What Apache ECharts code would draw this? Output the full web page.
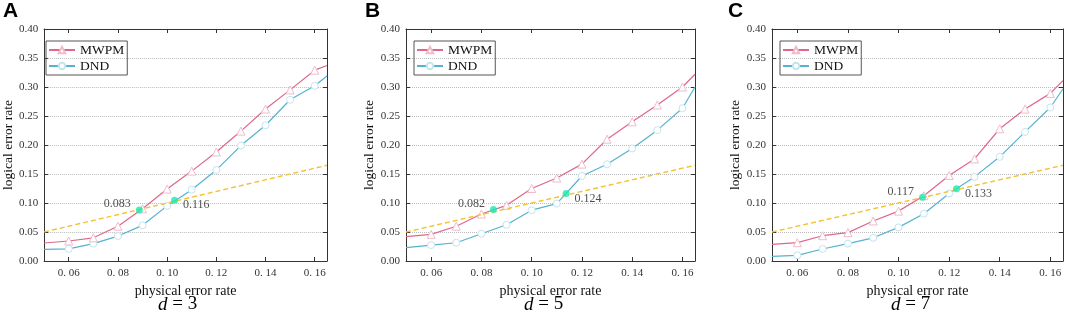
<!DOCTYPE html>
<html>
<head>
<meta charset="utf-8">
<script src="https://cdn.jsdelivr.net/npm/echarts@6/dist/echarts.min.js"></script>
<style>
  html, body { margin: 0; padding: 0; background: #fff; }
  #chart { width: 1065px; height: 312px; }
</style>
</head>
<body>
<div id="chart"></div>
<script>
// physical error rate samples (first/last are the axis edges, drawn without marker)
const physRates = [0.05, 0.06, 0.07, 0.08, 0.09, 0.10, 0.11, 0.12, 0.13, 0.14, 0.15, 0.16, 0.165]
const xTicks = [0.06, 0.08, 0.10, 0.12, 0.14, 0.16]

const mwpmA = [0.031, 0.0345, 0.040, 0.060, 0.090, 0.124, 0.155, 0.188, 0.224, 0.262, 0.295, 0.329, 0.337]
const dndA = [0.020, 0.021, 0.030, 0.043, 0.0615, 0.095, 0.123, 0.157, 0.199, 0.234, 0.278, 0.302, 0.319]
const mwpmB = [0.042, 0.046, 0.060, 0.081, 0.096, 0.125, 0.143, 0.167, 0.210, 0.240, 0.269, 0.300, 0.322]
const dndB = [0.023, 0.0275, 0.0315, 0.047, 0.0624, 0.0876, 0.099, 0.1466, 0.1667, 0.194, 0.2256, 0.2634, 0.300]
const mwpmC = [0.0287, 0.0316, 0.0436, 0.049, 0.069, 0.086, 0.1125, 0.1475, 0.176, 0.228, 0.262, 0.289, 0.311]
const dndC = [0.008, 0.0098, 0.0207, 0.030, 0.040, 0.058, 0.0815, 0.1165, 0.145, 0.1796, 0.2226, 0.2647, 0.297]

// logical = physical reference line
const refLine = [[0.05, 0.05], [0.165, 0.165]]

// crossing points and their labels
const crossA = [[0.0887, 0.088], [0.103, 0.1046]]
const crossB = [[0.0848, 0.0888], [0.1137, 0.1163]]
const crossC = [[0.1095, 0.1097], [0.1229, 0.1245]]
const crossLabelsA = ['0.083', '0.116']
const crossLabelsB = ['0.082', '0.124']
const crossLabelsC = ['0.117', '0.133']

const panelLetters = ['A', 'B', 'C']
const distances = ['3', '5', '7']

const panels = [
  { mwpm: mwpmA, dnd: dndA, cross: crossA, labels: crossLabelsA, left: 38, width: 289, dLeft: 158 },
  { mwpm: mwpmB, dnd: dndB, cross: crossB, labels: crossLabelsB, left: 406, width: 289, dLeft: 524 },
  { mwpm: mwpmC, dnd: dndC, cross: crossC, labels: crossLabelsC, left: 772, width: 291, dLeft: 891 }
]
const letterX = [3, 365, 728]

const serif = 'Liberation Serif'
const pink = '#e0668a'
const blue = '#55b3d0'

const toPoints = ys => ys.map((y, i) => {
  const p = { value: [physRates[i], y] }
  if (i === 0 || i === ys.length - 1) p.symbol = 'none'
  return p
})

const grid = []
const xAxis = []
const yAxis = []
const series = []
const legend = []
const graphic = []

panels.forEach((p, i) => {
  grid.push({ left: p.left, top: 29, width: p.width, height: 232, containLabel: false })

  xAxis.push({
    type: 'value', gridIndex: i, min: 0.05, max: 0.165,
    name: 'physical error rate', nameLocation: 'middle', nameGap: 17,
    nameTextStyle: { fontFamily: serif, fontSize: 14, color: '#111' },
    axisLine: { show: true, lineStyle: { color: '#333' } },
    axisTick: { show: true, inside: true, length: 4, customValues: xTicks, lineStyle: { color: '#333' } },
    axisLabel: {
      customValues: xTicks, margin: 7, fontFamily: serif, fontSize: 11, color: '#333',
      formatter: v => v.toFixed(2).replace('.', '. ')
    },
    splitLine: { show: false }
  })
  xAxis.push({
    type: 'value', gridIndex: i, position: 'top', min: 0.05, max: 0.165,
    axisLine: { show: true, onZero: false, lineStyle: { color: '#333' } },
    axisTick: { show: true, inside: true, length: 4, customValues: xTicks, lineStyle: { color: '#333' } },
    axisLabel: { show: false },
    splitLine: { show: false }
  })

  yAxis.push({
    type: 'value', gridIndex: i, min: 0, max: 0.4, interval: 0.05,
    name: 'logical error rate', nameLocation: 'middle', nameGap: 27,
    nameTextStyle: { fontFamily: serif, fontSize: 13.5, color: '#111' },
    axisLine: { show: true, lineStyle: { color: '#333' } },
    axisTick: { show: true, inside: true, length: 4, lineStyle: { color: '#333' } },
    axisLabel: { margin: 6, fontFamily: serif, fontSize: 11, color: '#333', formatter: v => v.toFixed(2) },
    splitLine: { show: true, lineStyle: { color: '#bbb', type: 'dotted' } }
  })
  yAxis.push({
    type: 'value', gridIndex: i, position: 'right', min: 0, max: 0.4, interval: 0.05,
    axisLine: { show: true, onZero: false, lineStyle: { color: '#333' } },
    axisTick: { show: true, inside: true, length: 4, lineStyle: { color: '#333' } },
    axisLabel: { show: false },
    splitLine: { show: false }
  })

  const xi = i * 2
  const yi = i * 2

  series.push({
    name: 'DND', type: 'line', xAxisIndex: xi, yAxisIndex: yi,
    data: toPoints(p.dnd), symbol: 'circle', symbolSize: 7,
    lineStyle: { color: blue, width: 1.2 },
    itemStyle: { color: '#fff', borderColor: '#c4e4ee', borderWidth: 1 },
    z: 3
  })
  series.push({
    name: 'MWPM', type: 'line', xAxisIndex: xi, yAxisIndex: yi,
    data: toPoints(p.mwpm), symbol: 'triangle', symbolSize: 8,
    lineStyle: { color: pink, width: 1.2 },
    itemStyle: { color: '#fff', borderColor: '#efbccb', borderWidth: 1 },
    z: 3
  })
  series.push({
    name: 'ref', type: 'line', xAxisIndex: xi, yAxisIndex: yi,
    data: refLine, symbol: 'none',
    lineStyle: { color: '#f2c232', width: 1.4, type: [5, 3] },
    z: 4, silent: true
  })
  series.push({
    name: 'cross', type: 'scatter', xAxisIndex: xi, yAxisIndex: yi,
    data: p.cross.map((c, k) => ({
      value: c,
      label: {
        show: true,
        formatter: p.labels[k],
        position: k === 0 ? 'left' : 'right',
        offset: k === 0 ? [0, -6] : [0, 5],
        fontFamily: serif, fontSize: 12, color: '#222'
      }
    })),
    symbol: 'circle', symbolSize: 7,
    itemStyle: { color: '#1de9b0' },
    z: 5
  })

  legend.push({
    data: ['MWPM', 'DND'], orient: 'vertical',
    left: p.left + 8, top: 41,
    itemWidth: 26, itemHeight: 8, itemGap: 2,
    padding: [2, 3, 2, 2],
    borderColor: '#555', borderWidth: 1,
    selectedMode: false,
    textStyle: { fontFamily: serif, fontSize: 13.5, color: '#111' }
  })

  graphic.push({
    type: 'text', left: letterX[i], top: 1,
    style: { text: panelLetters[i], font: 'bold 21px "Liberation Sans"', fill: '#000' }
  })
  graphic.push({
    type: 'text', left: p.dLeft, top: 295,
    style: {
      text: '{i|d} = ' + distances[i],
      rich: { i: { fontStyle: 'italic', fontFamily: serif, fontSize: 19, fill: '#000' } },
      font: '19px "Liberation Serif"', fill: '#000'
    }
  })
})

const chart = echarts.init(document.getElementById('chart'))
chart.setOption({
  animation: false,
  backgroundColor: '#fff',
  grid, xAxis, yAxis, series, legend, graphic
})
</script>
</body>
</html>
